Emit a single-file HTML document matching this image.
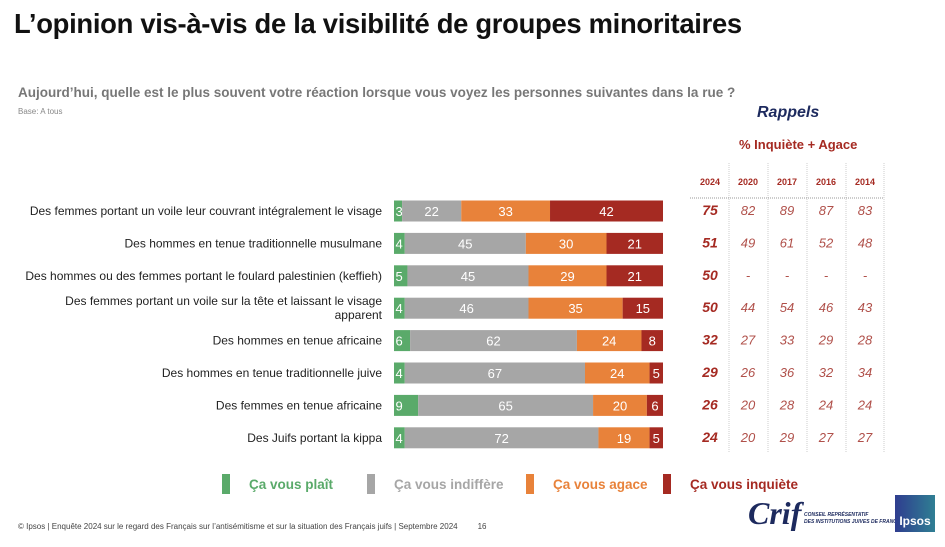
<!DOCTYPE html>
<html><head><meta charset="utf-8">
<style>
body{margin:0;width:945px;height:541px;background:#fff;font-family:"Liberation Sans",sans-serif;overflow:hidden;position:relative}
.abs{position:absolute;white-space:nowrap}
</style></head><body>
<div class="abs" style="left:14px;top:8px;font-size:27.4px;font-weight:bold;color:#111;letter-spacing:-0.3px">L’opinion vis-à-vis de la visibilité de groupes minoritaires</div>
<div class="abs" style="left:18px;top:85px;font-size:13.5px;font-weight:bold;color:#777">Aujourd’hui, quelle est le plus souvent votre réaction lorsque vous voyez les personnes suivantes dans la rue ?</div>
<div class="abs" style="left:18px;top:107px;font-size:8px;color:#888">Base: A tous</div>
<div class="abs" style="left:757px;top:104px;font-size:16px;font-weight:bold;font-style:italic;color:#1d2a5e">Rappels</div>
<div class="abs" style="left:739px;top:137px;font-size:13px;font-weight:bold;color:#a52a22">% Inquiète + Agace</div>
<svg id="chart" width="945" height="541" style="position:absolute;left:0;top:0"></svg>
<div class="abs" style="left:18px;top:522px;font-size:8px;color:#444">© Ipsos | Enquête 2024 sur le regard des Français sur l’antisémitisme et sur la situation des Français juifs | Septembre 2024 &nbsp;&nbsp;&nbsp;&nbsp;&nbsp;&nbsp;&nbsp; 16</div>
<div class="abs" style="left:748px;top:495px;font-size:32px;font-weight:bold;font-style:italic;font-family:'Liberation Serif',serif;color:#1d2a5e">Crif</div>
<div class="abs" style="left:804px;top:512px;font-size:5px;font-weight:bold;font-style:italic;color:#1d2a5e;line-height:7px">CONSEIL REPRÉSENTATIF<br>DES INSTITUTIONS JUIVES DE FRANCE</div>
<div class="abs" style="left:895px;top:495px;width:40px;height:37px;background:linear-gradient(90deg,#2f3d8f,#2f7f93);color:#fff;font-size:12px;font-weight:bold;text-align:center;line-height:52px">Ipsos</div>
<script>
const categories=["Des femmes portant un voile leur couvrant intégralement le visage","Des hommes en tenue traditionnelle musulmane","Des hommes ou des femmes portant le foulard palestinien (keffieh)","Des femmes portant un voile sur la tête et laissant le visage|apparent","Des hommes en tenue africaine","Des hommes en tenue traditionnelle juive","Des femmes en tenue africaine","Des Juifs portant la kippa"];
const plait=[3,4,5,4,6,4,9,4];
const indiff=[22,45,45,46,62,67,65,72];
const agace=[33,30,29,35,24,24,20,19];
const inquiete=[42,21,21,15,8,5,6,5];
const seriesNames=["Ça vous plaît","Ça vous indiffère","Ça vous agace","Ça vous inquiète"];
const years=["2024","2020","2017","2016","2014"];
const r2024=["75","51","50","50","32","29","26","24"];
const r2020=["82","49","-","44","27","26","20","20"];
const r2017=["89","61","-","54","33","36","28","29"];
const r2016=["87","52","-","46","29","32","24","27"];
const r2014=["83","48","-","43","28","34","24","27"];
const colors=["#5aaa6a","#a6a6a6","#e8823a","#a52a22"];
const svg=document.getElementById('chart');const NS="http://www.w3.org/2000/svg";
function mk(t,a,txt){const e=document.createElementNS(NS,t);for(const k in a)e.setAttribute(k,a[k]);if(txt!==undefined)e.textContent=txt;svg.appendChild(e);return e;}
const x0=394,xw=269;const xs=v=>x0+v/100*xw;
const yc=i=>211+i*32.4;const bh=21;
const series=[plait,indiff,agace,inquiete];
categories.forEach((c,i)=>{
 const parts=c.split('|');
 parts.forEach((p,j)=>{
  const t=mk('text',{x:382,y:yc(i)+4+(parts.length>1?(j*14-7):0),'text-anchor':'end','font-size':'12',fill:'#222'},p);
  
  
 });
 let acc=0;
 series.forEach((s,k)=>{
  const v=s[i];
  const r=mk('rect',{x:xs(acc),y:yc(i)-bh/2,width:xs(acc+v)-xs(acc),height:bh,fill:colors[k]});
  
  
  const t=mk('text',{x:k==0?xs(acc)+1.5:(xs(acc)+xs(acc+v))/2,y:yc(i)+5,'text-anchor':k==0?'start':'middle','font-size':'13',fill:'#fff'},String(v));
  
  
  acc+=v;
 });
});
const lx=[222,367,526,663];
seriesNames.forEach((n,k)=>{
 const r=mk('rect',{x:lx[k],y:474,width:8,height:20,fill:colors[k]});
 
 
 const t=mk('text',{x:lx[k]+27,y:489,'font-size':'13.5','font-weight':'bold',fill:k==3?'#a52a22':colors[k]},n);
 
 
});
const cx=[710,748,787,826,865];
[729,768,807,846,884].forEach(x=>{
 const l=mk('line',{x1:x,y1:163,x2:x,y2:452,stroke:'#ccc','stroke-width':1,'stroke-dasharray':'1,1'});
 
 
});
const hl=mk('line',{x1:690,y1:198,x2:884,y2:198,stroke:'#999','stroke-width':1,'stroke-dasharray':'1,1'});


years.forEach((y,k)=>{
 const t=mk('text',{x:cx[k],y:185,'text-anchor':'middle','font-size':'9','font-weight':'bold',fill:'#a52a22'},y);
 
 
});
const cols=[r2024,r2020,r2017,r2016,r2014];
cols.forEach((col,k)=>col.forEach((v,i)=>{
 const t=mk('text',{x:cx[k],y:yc(i)+4,'text-anchor':'middle','font-size':k==0?'14':'13','font-weight':k==0?'bold':'normal','font-style':'italic',fill:k==0?'#a52a22':'#b0504a'},v);
 
 
}));
</script>
</body></html>
